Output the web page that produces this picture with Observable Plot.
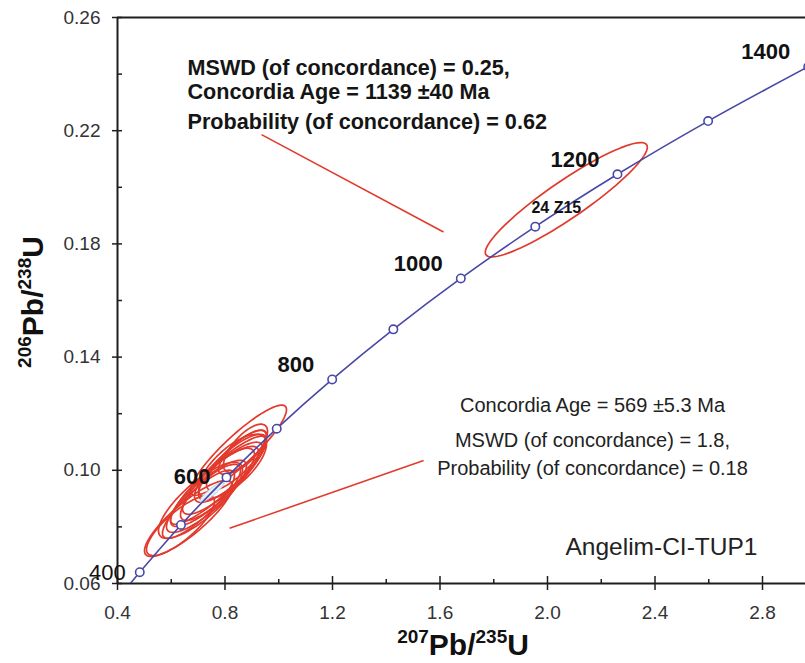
<!DOCTYPE html>
<html><head><meta charset="utf-8">
<script src="https://cdn.jsdelivr.net/npm/d3@7"></script>
<script src="https://cdn.jsdelivr.net/npm/@observablehq/plot@0.6"></script>
<style>
body{margin:0;background:#fff;}
#chart svg{display:block;}
</style></head><body><div id="chart"></div>
<script>
// Concordia reference points (age in Ma, 207Pb/235U, 206Pb/238U)
const ages  = [400, 500, 600, 700, 800, 900, 1000, 1100, 1200, 1300, 1400];
const concX = [0.4828, 0.6362, 0.8056, 0.9925, 1.1988, 1.4264, 1.6774, 1.9546, 2.2603, 2.5977, 2.9701];
const concY = [0.0640, 0.0807, 0.0975, 0.1147, 0.1321, 0.1498, 0.1678, 0.1861, 0.2046, 0.2234, 0.2426];
// curve trace (includes a point just below the axis so the line reaches it)
const lineX = [0.4467, ...concX];
const lineY = [0.0599, ...concY];
const labelAgesUpper = [800, 1000, 1200, 1400];
const labelAgesMid = [600];
const labelAgesLow = [400];

// Error ellipses (centre, half-extent x, half-extent y, correlation)
const ellName = ["a","b","c","d","e","f","g","h","i","j","k","l","m","n","o","p","24 Z15"];
const ellX   = [0.8502, 0.6642, 0.8205, 0.7907, 0.7609, 0.8428, 0.7312, 0.8056, 0.7014, 0.7758, 0.8651, 0.7460, 0.8279, 0.7088, 0.8763, 0.6344, 2.070];
const ellY   = [0.1071, 0.0830, 0.1007, 0.0972, 0.0943, 0.1035, 0.0908, 0.0986, 0.0880, 0.0965, 0.1064, 0.0922, 0.1014, 0.0894, 0.1078, 0.0805, 0.1956];
const ellSX  = [0.1786, 0.1637, 0.1340, 0.1488, 0.1637, 0.1116, 0.1488, 0.1042, 0.1340, 0.1786, 0.0893, 0.1116, 0.1265, 0.1563, 0.0819, 0.1265, 0.3015];
const ellSY  = [0.01593, 0.01345, 0.01204, 0.01274, 0.01416, 0.01062, 0.01274, 0.0092, 0.01204, 0.01558, 0.00779, 0.00991, 0.01133, 0.01345, 0.0085, 0.01062, 0.0202];
const ellRho = [0.90, 0.85, 0.82, 0.85, 0.86, 0.80, 0.84, 0.75, 0.85, 0.90, 0.78, 0.80, 0.70, 0.80, 0.70, 0.80, 0.92];
// Concordia-age ellipse (569 Ma)
const caX = [0.7514], caY = [0.0923], caSX = [0.045], caSY = [0.0036], caRho = [0.9];

const yMajor = [0.06, 0.10, 0.14, 0.18, 0.22, 0.26];
const yMinor = [0.08, 0.12, 0.16, 0.20, 0.24];
const xMajor = [0.4, 0.8, 1.2, 1.6, 2.0, 2.4, 2.8];
const xMinor = [0.6, 1.0, 1.4, 1.8, 2.2, 2.6];

const topNote = ["MSWD (of concordance) = 0.25,", "Concordia Age = 1139 ±40 Ma", "Probability (of concordance) = 0.62"];
const lowNote = ["Concordia Age = 569 ±5.3 Ma", "MSWD (of concordance) = 1.8,", "Probability (of concordance) = 0.18"];
const sampleName = ["Angelim-CI-TUP1"];
const leaderX1 = [0.936, 0.817], leaderY1 = [0.2186, 0.0795];
const leaderX2 = [1.613, 1.539], leaderY2 = [0.1842, 0.1035];

function ellipsePts(cx, cy, sx, sy, rho) {
  const rows = [];
  cx.forEach((c, i) => {
    const s = Math.sqrt(1 - rho[i] * rho[i]);
    for (let k = 0; k < 90; k++) {
      const t = 2 * Math.PI * k / 90;
      rows.push({id: i, x: c + sx[i] * Math.cos(t), y: cy[i] + sy[i] * (rho[i] * Math.cos(t) + s * Math.sin(t))});
    }
  });
  return rows;
}
const ellRows = ellipsePts(ellX, ellY, ellSX, ellSY, ellRho);
const caRows = ellipsePts(caX, caY, caSX, caSY, caRho);

const red = "#e23a2c", blue = "#4848a6", ink = "#1e1e1e", grey = "#333";
const idx = a => a.map(v => ages.indexOf(v));

const chart = Plot.plot({
  width: 805, height: 663,
  marginLeft: 117, marginRight: 0, marginTop: 17, marginBottom: 80,
  x: {domain: [0.4, 2.96], label: null},
  y: {domain: [0.06, 0.26], label: null},
  style: {fontFamily: "'Liberation Sans', Arial, Helvetica, sans-serif", background: "#fff", color: ink},
  marks: [
    Plot.axisY({ticks: yMinor, tickSize: 5, dx: 5, fill: "none", stroke: ink, strokeWidth: 1.5}),
    Plot.axisY({ticks: yMajor, tickSize: 10, dx: 5, fill: "none", stroke: ink, strokeWidth: 1.5}),
    Plot.axisY({ticks: yMajor, tickSize: 0, tickPadding: 17, tickFormat: d => d.toFixed(2), fontSize: 19, fill: grey, label: null}),
    Plot.axisX({ticks: xMinor, tickSize: 4, dy: -4, fill: "none", stroke: ink, strokeWidth: 1.5}),
    Plot.axisX({ticks: xMajor, tickSize: 14, dy: -7, fill: "none", stroke: ink, strokeWidth: 1.5}),
    Plot.axisX({ticks: xMajor, tickSize: 0, tickPadding: 22, tickFormat: d => d.toFixed(1), fontSize: 19, fill: grey, label: null}),
    Plot.ruleX([0.4], {stroke: ink, strokeWidth: 2}),
    Plot.ruleY([0.06, 0.26], {stroke: ink, strokeWidth: 2}),
    Plot.line(ellRows, {x: "x", y: "y", z: "id", curve: "linear-closed", stroke: red, strokeWidth: 1.7}),
    Plot.line(caRows, {x: "x", y: "y", z: "id", curve: "linear-closed", fill: "#e4eef8", stroke: "#b9cde3", strokeWidth: 1}),
    Plot.line(lineX.map((x, i) => i), {x: i => lineX[i], y: i => lineY[i], curve: "catmull-rom", stroke: blue, strokeWidth: 1.6, clip: true}),
    Plot.dot(ages.map((a, i) => i), {x: i => concX[i], y: i => concY[i], r: 4.2, fill: "#fff", stroke: blue, strokeWidth: 1.6}),
    Plot.text(idx(labelAgesUpper), {x: i => concX[i], y: i => concY[i], text: i => String(ages[i]), dx: -18, dy: -14.5, textAnchor: "end", fontWeight: "bold", fontSize: 22, fill: "#111"}),
    Plot.text(idx(labelAgesMid), {x: i => concX[i], y: i => concY[i], text: i => String(ages[i]), dx: -16, dy: 0, textAnchor: "end", fontWeight: "bold", fontSize: 22, fill: "#111"}),
    Plot.text(idx(labelAgesLow), {x: i => concX[i], y: i => concY[i], text: i => String(ages[i]), dx: -14, dy: 1, textAnchor: "end", fontSize: 22, fill: "#111"}),
    Plot.text([16], {x: i => ellX[i], y: i => ellY[i], text: i => ellName[i], dx: -10, dy: 8, fontWeight: "bold", fontSize: 16, fill: "#111"}),
    Plot.link([0, 1], {x1: i => leaderX1[i], y1: i => leaderY1[i], x2: i => leaderX2[i], y2: i => leaderY2[i], stroke: red, strokeWidth: 1.6}),
    Plot.text(topNote, {x: 0.6605, y: (d, i) => [0.2423, 0.2338, 0.2232][i], text: d => d, textAnchor: "start", fontWeight: "bold", fontSize: 21.6, fill: "#151515"}),
    Plot.text(lowNote, {x: 2.1674, y: (d, i) => [0.1230, 0.1106, 0.1007][i], text: d => d, textAnchor: "middle", fontSize: 20, fill: "#222"}),
    Plot.text(sampleName, {x: 2.424, y: 0.0727, text: d => d, textAnchor: "middle", fontSize: 24.5, fill: "#222"})
  ]
});
document.getElementById("chart").appendChild(chart);

// Axis titles with superscripts
const svg = d3.select(chart);
const xt = svg.append("text").attr("x", 463).attr("y", 655).attr("text-anchor", "middle")
  .attr("font-family", "'Liberation Sans', Arial, sans-serif").attr("font-weight", "bold").attr("font-size", 30).attr("fill", "#111");
xt.append("tspan").attr("font-size", 19).attr("dy", -12).text("207");
xt.append("tspan").attr("dy", 12).text("Pb/");
xt.append("tspan").attr("font-size", 19).attr("dy", -12).text("235");
xt.append("tspan").attr("dy", 12).text("U");
const yt = svg.append("text").attr("transform", "translate(43,302) rotate(-90)").attr("text-anchor", "middle")
  .attr("font-family", "'Liberation Sans', Arial, sans-serif").attr("font-weight", "bold").attr("font-size", 30).attr("fill", "#111");
yt.append("tspan").attr("font-size", 19).attr("dy", -12).text("206");
yt.append("tspan").attr("dy", 12).text("Pb/");
yt.append("tspan").attr("font-size", 19).attr("dy", -12).text("238");
yt.append("tspan").attr("dy", 12).text("U");
</script>
</body></html>
